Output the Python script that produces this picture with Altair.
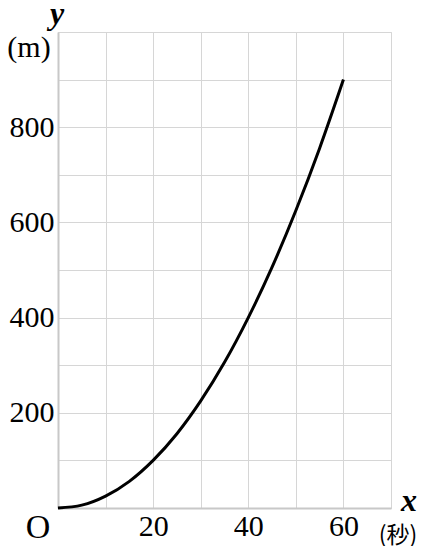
import altair as alt
import pandas as pd

# Values
x_sec = [0, 5, 10, 15, 20, 25, 30, 35, 40, 45, 50, 55, 60]
y_m = [0, 6, 25, 56, 100, 156, 225, 306, 400, 506, 625, 756, 900]

x_labels = [20, 40, 60]
y_labels = [200, 400, 600, 800]

SERIF = "Liberation Serif, DejaVu Serif, serif"
CJK = "Noto Sans CJK JP"

df = pd.DataFrame({"x": x_sec, "y": y_m})

xlab_expr = "indexof([" + ",".join(str(v) for v in x_labels) + "], datum.value) >= 0 ? datum.label : ''"
ylab_expr = "indexof([" + ",".join(str(v) for v in y_labels) + "], datum.value) >= 0 ? datum.label : ''"

xscale = alt.Scale(domain=[0, 70], nice=False)
yscale = alt.Scale(domain=[0, 1000], nice=False)

common = dict(ticks=False, grid=True, gridColor="#d6d6d6", gridWidth=1,
              domainColor="#c8c8c8", domainWidth=2, title=None,
              labelFont=SERIF, labelFontSize=30, labelColor="black", labelFlush=False)

line = alt.Chart(df).mark_line(color="black", strokeWidth=3, interpolate="monotone").encode(
    x=alt.X("x:Q", scale=xscale, axis=alt.Axis(
        values=list(range(0, 71, 10)), labelExpr=xlab_expr, labelPadding=3, **common)),
    y=alt.Y("y:Q", scale=yscale, axis=alt.Axis(
        values=list(range(0, 1001, 100)), labelExpr=ylab_expr, labelPadding=4, **common)),
)

def label(text, xv, yv, dx, dy, font, size, style="normal", weight="normal", align="center"):
    d = pd.DataFrame({"x": [xv], "y": [yv], "t": [text]})
    return alt.Chart(d).mark_text(
        font=font, fontSize=size, fontStyle=style, fontWeight=weight,
        align=align, baseline="alphabetic", dx=dx, dy=dy, color="black",
    ).encode(x=alt.X("x:Q", scale=xscale), y=alt.Y("y:Q", scale=yscale), text="t:N")

texts = [
    label("y", 0, 1000, -1, -8, SERIF, 32, "italic", "bold"),
    label("(m)", 0, 1000, -29, 25, SERIF, 30),
    label("x", 70, 0, 18, 3, SERIF, 32, "italic", "bold"),
    label("(秒)", 70, 0, 7, 35, CJK, 23),
    label("O", 0, 0, -20, 30, SERIF, 34),
]

chart = alt.layer(line, *texts).properties(
    width=333, height=476,
    autosize=alt.AutoSizeParams(type="none"),
    padding={"left": 50, "top": 24, "right": 33, "bottom": 38},
).configure_view(stroke=None).configure(background="white")

chart.save("out.html", embed_options={"renderer": "svg", "actions": False})
